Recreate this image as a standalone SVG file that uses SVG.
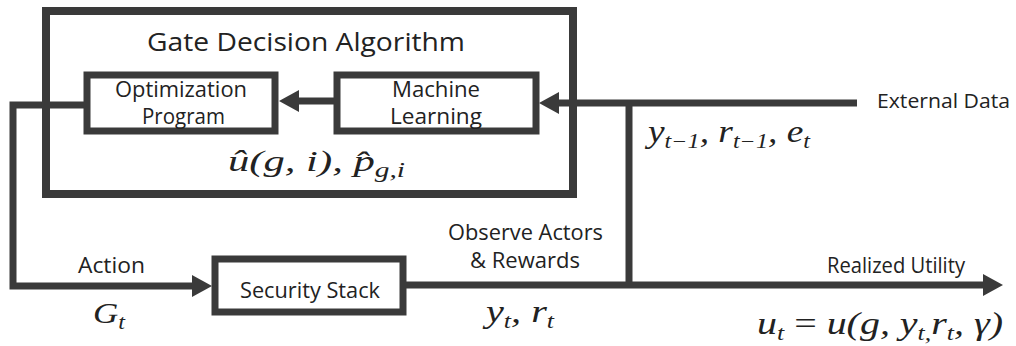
<svg xmlns="http://www.w3.org/2000/svg" width="1016" height="346" viewBox="0 0 1016 346">
  <defs>
    <style>
      .box { fill: #ffffff; stroke: #3a3a3a; stroke-width: 7; }
      .outer { fill: none; stroke: #3a3a3a; stroke-width: 8; }
      .wire { fill: none; stroke: #3a3a3a; stroke-width: 7; stroke-linejoin: miter; }
      .lbl { font-family: "Open Sans", "Liberation Sans", sans-serif; fill: #222222; }
      .m { font-family: "Liberation Serif", "DejaVu Serif", serif; font-style: italic; fill: #222222; }
      .sub { font-size: 20px; }
    </style>
    <marker id="ah" markerUnits="userSpaceOnUse" markerWidth="20" markerHeight="22" viewBox="0 0 20 22" refX="0" refY="11" orient="auto">
      <path d="M0,0 L20,11 L0,22 Z" fill="#3a3a3a"/>
    </marker>
  </defs>
  <rect width="1016" height="346" fill="#ffffff"/>

  <g id="gate-decision-algorithm">
    <rect class="outer" x="46" y="11" width="527" height="183"/>
    <text class="lbl" x="147" y="51" font-size="26" textLength="318" lengthAdjust="spacingAndGlyphs">Gate Decision Algorithm</text>
    <text class="m" x="228" y="171" font-size="29" textLength="177" lengthAdjust="spacingAndGlyphs">û(g, i), p̂<tspan class="sub" dy="6">g,i</tspan></text>
  </g>

  <g id="connectors">
    <path class="wire" d="M334,101 H299" marker-end="url(#ah)"/>
    <path class="wire" d="M857,103 H559" marker-end="url(#ah)"/>
    <path class="wire" d="M84,105 H13 V286 H192" marker-end="url(#ah)"/>
    <path class="wire" d="M406,285 H983" marker-end="url(#ah)"/>
    <path class="wire" d="M629,103 V285"/>
  </g>

  <g id="optimization-program">
    <rect class="box" x="87" y="75" width="188" height="56"/>
    <text class="lbl" x="115" y="97" font-size="21" textLength="132" lengthAdjust="spacingAndGlyphs">Optimization</text>
    <text class="lbl" x="142" y="124" font-size="21" textLength="83" lengthAdjust="spacingAndGlyphs">Program</text>
  </g>

  <g id="machine-learning">
    <rect class="box" x="337" y="75" width="199" height="56"/>
    <text class="lbl" x="392" y="97" font-size="21" textLength="88" lengthAdjust="spacingAndGlyphs">Machine</text>
    <text class="lbl" x="390" y="124" font-size="21" textLength="92" lengthAdjust="spacingAndGlyphs">Learning</text>
  </g>

  <g id="security-stack">
    <rect class="box" x="215" y="259" width="188" height="53"/>
    <text class="lbl" x="240" y="298" font-size="22" textLength="140" lengthAdjust="spacingAndGlyphs">Security Stack</text>
  </g>

  <g id="labels">
    <text class="lbl" x="877" y="108" font-size="20" textLength="133" lengthAdjust="spacingAndGlyphs">External Data</text>
    <text class="m" x="648" y="142" font-size="31" textLength="162" lengthAdjust="spacingAndGlyphs">y<tspan class="sub" dy="6">t−1</tspan><tspan dy="-6">, r</tspan><tspan class="sub" dy="6">t−1</tspan><tspan dy="-6">, e</tspan><tspan class="sub" dy="6">t</tspan></text>
    <text class="lbl" x="78" y="273" font-size="22" textLength="67" lengthAdjust="spacingAndGlyphs">Action</text>
    <text class="m" x="93" y="323" font-size="29" textLength="32" lengthAdjust="spacingAndGlyphs">G<tspan class="sub" dy="6">t</tspan></text>
    <text class="lbl" x="448" y="240" font-size="22" textLength="155" lengthAdjust="spacingAndGlyphs">Observe Actors</text>
    <text class="lbl" x="470" y="268" font-size="22" textLength="110" lengthAdjust="spacingAndGlyphs">&amp; Rewards</text>
    <text class="m" x="486" y="322" font-size="31" textLength="68" lengthAdjust="spacingAndGlyphs">y<tspan class="sub" dy="6">t</tspan><tspan dy="-6">, r</tspan><tspan class="sub" dy="6">t</tspan></text>
    <text class="lbl" x="827" y="273" font-size="22" textLength="138" lengthAdjust="spacingAndGlyphs">Realized Utility</text>
    <text class="m" x="757" y="334" font-size="31" textLength="246" lengthAdjust="spacingAndGlyphs">u<tspan class="sub" dy="6">t</tspan><tspan dy="-6" font-style="normal"> = </tspan>u(g, y<tspan class="sub" dy="6">t,</tspan><tspan dy="-6">r</tspan><tspan class="sub" dy="6">t</tspan><tspan dy="-6">, γ)</tspan></text>
  </g>
</svg>
